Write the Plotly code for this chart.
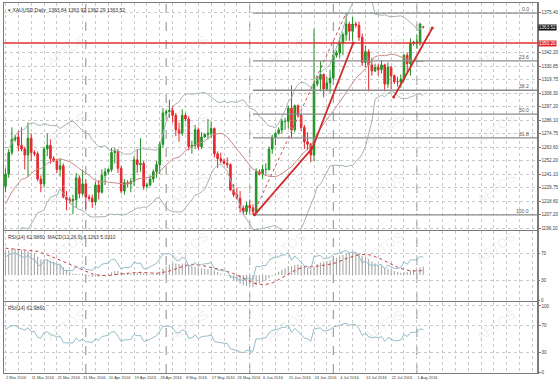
import numpy as np
import pandas as pd
import plotly.graph_objects as go

# ---------------- data (XAUUSD daily, 2 Mar 2016 - 3 Aug 2016, broker bars incl. Sundays) -------------
opens = [1231,1241,1259,1270,1272,1265,1262,1257,1271,1259,
         1258,1237,1233,1262,1265,1254,1252,1245,1248,1222,
         1220,1219,1220,1238,1225,1233,1222,1221,1218,1232,
         1226,1240,1243,1245,1259,1260,1246,1227,1234,1233,
         1235,1253,1249,1250,1231,1232,1237,1243,1249,1266,
         1292,1293,1294,1290,1278,1275,1290,1287,1264,1265,
         1278,1264,1272,1274,1275,1279,1258,1254,1252,1250,
         1249,1228,1224,1221,1213,1210,1215,1213,1210,1243,
         1241,1245,1245,1262,1272,1275,1278,1285,1285,1296,
         1278,1298,1290,1280,1268,1266,1257,1316,1320,1324,
         1312,1317,1321,1340,1342,1350,1357,1366,1360,1366,
         1365,1355,1334,1343,1332,1327,1330,1328,1332,1316,
         1330,1323,1318,1318,1320,1340,1333,1350,1351,1351,
         1363.84]
highs = [1246,1262,1280,1274,1277,1280,1264,1284,1275,1261,
         1260,1240,1264,1275,1270,1256,1254,1254,1250,1227,
         1222,1224,1242,1240,1245,1237,1224,1224,1235,1236,
         1245,1246,1246,1263,1263,1262,1248,1237,1236,1238,
         1256,1262,1271,1252,1234,1240,1245,1252,1268,1296,
         1295,1303,1298,1292,1284,1295,1292,1289,1269,1282,
         1280,1276,1275,1287,1285,1280,1260,1259,1254,1255,
         1250,1233,1230,1227,1215,1218,1220,1216,1246,1245,
         1249,1250,1264,1274,1276,1280,1287,1288,1298,1315,
         1299,1299,1292,1282,1276,1267,1362,1323,1335,1325,
         1322,1328,1345,1344,1355,1359,1375,1368,1372,1368,
         1368,1358,1348,1345,1338,1333,1333,1336,1333,1334,
         1331,1324,1322,1324,1341,1342,1354,1352,1357,1367,
         1363.92]
lows = [1226,1238,1257,1268,1260,1260,1245,1239,1252,1256,
        1235,1226,1230,1256,1250,1251,1242,1239,1221,1211,
        1217,1208,1213,1221,1223,1212,1219,1213,1215,1220,
        1225,1232,1241,1243,1250,1242,1225,1224,1230,1226,
        1231,1242,1243,1228,1229,1231,1234,1238,1241,1263,
        1290,1288,1284,1273,1268,1273,1285,1261,1258,1262,
        1261,1262,1271,1270,1271,1255,1246,1250,1249,1246,
        1227,1222,1220,1209,1207,1207.2,1208,1207.5,1208,1240,
        1237,1240,1244,1258,1265,1274,1275,1278,1279,1271,
        1276,1288,1277,1262,1261,1251,1252,1314,1310,1305,
        1310,1309,1320,1338,1338,1340,1352,1352,1352,1363,
        1352,1331,1330,1310,1323,1326,1323,1325,1310,1313,
        1312,1316,1314,1313,1318,1326,1323,1348,1346,1348,
        1362.29]
closes = [1241,1259,1270,1272,1265,1262,1257,1271,1259,1258,
          1237,1233,1262,1265,1254,1252,1245,1248,1222,1220,
          1219,1220,1238,1225,1233,1222,1221,1218,1232,1226,
          1240,1243,1245,1259,1260,1246,1227,1234,1233,1235,
          1253,1249,1250,1231,1232,1237,1243,1249,1266,1292,
          1293,1294,1290,1278,1275,1290,1287,1264,1265,1278,
          1264,1272,1274,1275,1279,1258,1254,1252,1250,1249,
          1228,1224,1221,1213,1210,1215,1213,1210,1243,1241,
          1245,1245,1262,1272,1275,1278,1285,1285,1296,1278,
          1298,1290,1280,1268,1266,1257,1316,1320,1324,1312,
          1317,1321,1340,1342,1350,1357,1366,1360,1366,1365,
          1355,1334,1343,1332,1327,1330,1328,1332,1316,1330,
          1323,1318,1318,1320,1340,1333,1350,1351,1351,1366,
          1363.52]
# closes before the first visible bar (Dec 2015 - 1 Mar 2016), used only to warm up the indicators
hist_closes = [1062,1053,1085,1075,1075,1073,1076,1062,1064,1062,1076,1049,1065,1080,1075,1068,1076,1070,1062,1060,
               1075,1078,1091,1108,1097,1096,1085,1086,1073,1089,1088,1089,1106,1098,1097,1107,1119,1125,1115,1118,
               1127,1128,1141,1155,1173,1198,1197,1194,1247,1239,1208,1208,1210,1226,1230,1210,1224,1237,1240,1221,1238,
               1230]

label_bars = [0, 8, 16, 24, 32, 40, 48, 56, 64, 72, 80, 88, 96, 104, 112, 120, 128]
date_labels = ["2 Mar 2016", "11 Mar 2016", "21 Mar 2016", "31 Mar 2016", "10 Apr 2016", "19 Apr 2016",
               "28 Apr 2016", "8 May 2016", "17 May 2016", "26 May 2016", "6 Jun 2016", "15 Jun 2016",
               "24 Jun 2016", "4 Jul 2016", "13 Jul 2016", "22 Jul 2016", "1 Aug 2016"]
month_start_bars = [25, 50, 76, 102, 128]

price_ticks = [1375.40, 1342.20, 1330.85, 1319.75, 1308.30, 1297.20, 1286.10, 1274.75,
               1263.60, 1252.20, 1241.10, 1229.75, 1218.60, 1207.20, 1196.10]
rsi_ticks = [0, 30, 70, 100]

fib_levels = [0.0, 23.6, 38.2, 50.0, 61.8, 100.0]
fib_high, fib_low = 1375.0, 1207.2
fib_high_bar, fib_low_bar = 106, 77
hline_price = 1350.20
last_price = 1363.52
trend1_x = [77.5, 95.5, 108.2]
trend1_y = [1207.2, 1262.8, 1350.2]
trend2_x = [120.8, 132.8]
trend2_y = [1305.2, 1362.7]

# ---------------- indicators ----------------
n = len(closes)
idx = list(range(n))
allc = pd.Series(hist_closes + closes, dtype=float)
h = len(hist_closes)
sma20 = allc.rolling(20).mean()
std20 = allc.rolling(20).std(ddof=0)
bb_up = (sma20 + 2 * std20).iloc[h:].values
bb_dn = (sma20 - 2 * std20).iloc[h:].values
bb_mid = sma20.iloc[h:].values
ema12 = allc.ewm(span=12, adjust=False).mean()
ema26 = allc.ewm(span=26, adjust=False).mean()
macd_all = ema12 - ema26
sig_all = macd_all.rolling(9).mean()
macd = macd_all.iloc[h:].values
sig = sig_all.iloc[h:].values
d = allc.diff()
g = d.clip(lower=0).ewm(alpha=1 / 14, adjust=False).mean()
l = (-d.clip(upper=0)).ewm(alpha=1 / 14, adjust=False).mean()
rsi = (100 - 100 / (1 + g / l)).iloc[h:].values

# ---------------- geometry ----------------
W, H = 560, 385
ML, MR, MT, MB = 2, 19, 3, 12
PH = H - MT - MB
PW = W - ML - MR


def dom(top_px, bot_px):
    return [(H - MB - bot_px) / PH, (H - MB - top_px) / PH]


XR = [-0.46, -0.46 + PW / 3.25]
GRID = "#c9c9c9"
AX = "#7a7a7a"
NARROW = "Liberation Sans Narrow, Liberation Sans, Arial"
TICKFONT = dict(family=NARROW, size=4.6, color="#404040")
DATEFONT = dict(family=NARROW, size=4.0, color="#404040")
CAPFONT = dict(family="Liberation Sans, Arial", size=5, color="#333333")

fig = go.Figure()

# Bollinger bands
fig.add_trace(go.Scatter(x=idx, y=bb_up, mode="lines", line=dict(color="#a3b5ad", width=1), hoverinfo="skip"))
fig.add_trace(go.Scatter(x=idx, y=bb_dn, mode="lines", line=dict(color="#a3b5ad", width=1), hoverinfo="skip"))
fig.add_trace(go.Scatter(x=idx, y=bb_mid, mode="lines", line=dict(color="#c98a8a", width=1), hoverinfo="skip"))

# Fibonacci retracement
rng = fib_high - fib_low
for lv in fib_levels:
    p = fib_high - lv / 100 * rng
    fig.add_trace(go.Scatter(x=[fib_low_bar, XR[1]], y=[p, p], mode="lines",
                             line=dict(color="#8c8c8c", width=1.3), hoverinfo="skip"))
    fig.add_annotation(x=XR[1] - 2.0, y=p, xref="x", yref="y", text=f"{lv:.1f}", showarrow=False,
                       xanchor="right", yanchor="bottom", yshift=-1, font=dict(size=5, color="#555555"))
fig.add_trace(go.Scatter(x=[fib_low_bar, fib_high_bar], y=[fib_low, fib_high], mode="lines",
                         line=dict(color="#c05050", width=1, dash="dot"), hoverinfo="skip"))

# horizontal red line
fig.add_trace(go.Scatter(x=XR, y=[hline_price, hline_price], mode="lines",
                         line=dict(color="#e03030", width=1.5), hoverinfo="skip"))

# candles
fig.add_trace(go.Candlestick(x=idx, open=opens, high=highs, low=lows, close=closes,
                             increasing=dict(line=dict(color="#1f8f23", width=1), fillcolor="#22a028"),
                             decreasing=dict(line=dict(color="#e3262c", width=1), fillcolor="#ee2a30"),
                             whiskerwidth=0, hoverinfo="skip"))

# trend lines
fig.add_trace(go.Scatter(x=trend1_x, y=trend1_y, mode="lines+markers",
                         line=dict(color="#d02a2a", width=1.8), marker=dict(size=3, color="#d02a2a"),
                         hoverinfo="skip"))
fig.add_trace(go.Scatter(x=trend2_x, y=trend2_y, mode="lines+markers",
                         line=dict(color="#d02a2a", width=1.8), marker=dict(size=3, color="#d02a2a"),
                         hoverinfo="skip"))

# MACD panel: histogram + signal + RSI overlay
fig.add_trace(go.Bar(x=idx, y=macd, marker=dict(color="#a8a8a8", line=dict(width=0)), width=0.35,
                     xaxis="x2", yaxis="y2", hoverinfo="skip"))
fig.add_trace(go.Scatter(x=idx, y=sig, mode="lines", line=dict(color="#c43c3c", width=1, dash="dot"),
                         xaxis="x2", yaxis="y2", hoverinfo="skip"))
fig.add_trace(go.Scatter(x=idx, y=rsi, mode="lines", line=dict(color="#93bccb", width=1),
                         xaxis="x2", yaxis="y3", hoverinfo="skip"))
# RSI panel
fig.add_trace(go.Scatter(x=idx, y=rsi, mode="lines", line=dict(color="#93bccb", width=1),
                         xaxis="x3", yaxis="y4", hoverinfo="skip"))

# x tick positions (grid every 4 bars, labels every 8)
grid_vals = list(range(0, 166, 4))
grid_text = [date_labels[label_bars.index(v)] if v in label_bars else "" for v in grid_vals]

xcommon = dict(range=XR, showgrid=True, gridcolor=GRID, griddash="dot", gridwidth=1, zeroline=False,
               tickmode="array", tickvals=grid_vals, showline=True, linecolor=AX, linewidth=1, mirror=True)
ycommon = dict(side="right", tickmode="array", showgrid=True, gridcolor=GRID, griddash="dot", zeroline=False,
               ticks="outside", ticklen=2, tickcolor=AX, tickfont=TICKFONT)
fig.update_layout(
    width=W, height=H, margin=dict(l=ML, r=MR, t=MT, b=MB),
    paper_bgcolor="white", plot_bgcolor="white", showlegend=False, font=TICKFONT,
    xaxis=dict(**xcommon, domain=[0, 1], anchor="y", showticklabels=False, rangeslider=dict(visible=False)),
    xaxis2=dict(**xcommon, domain=[0, 1], anchor="y2", showticklabels=False, matches="x"),
    xaxis3=dict(**xcommon, domain=[0, 1], anchor="y4", showticklabels=True, matches="x",
                ticktext=grid_text, ticklabelposition="outside right", ticks="", tickangle=0,
                tickfont=DATEFONT),
    yaxis=dict(**ycommon, domain=dom(3, 230), range=[1194.6, 1383.5], tickvals=price_ticks,
               ticktext=[f"{v:.2f}" for v in price_ticks], showline=True, linecolor=AX, linewidth=1.5,
               mirror=True, anchor="x"),
    yaxis2=dict(domain=dom(231, 301), range=[-29.5, 50], side="right", showticklabels=False, showgrid=False,
                zeroline=False, showline=True, linecolor=AX, linewidth=1.5, mirror=True, anchor="x2"),
    yaxis3=dict(**ycommon, domain=dom(231, 301), range=[-1.5, 103.5], overlaying="y2", tickvals=[0, 30, 70],
                anchor="x2"),
    yaxis4=dict(**ycommon, domain=dom(302, 373), range=[-1.5, 106], tickvals=rsi_ticks, showline=True,
                linecolor=AX, linewidth=1.5, mirror=True, anchor="x3"),
)

# month separators
for b in month_start_bars:
    fig.add_shape(type="line", xref="x", yref="paper", x0=b, x1=b, y0=0, y1=1,
                  line=dict(color="#8a8a8a", width=1, dash="dash"), layer="below")

# price boxes on the right scale
for val, bg in [(last_price, "#111111"), (hline_price, "#e02828")]:
    fig.add_annotation(x=1, xref="paper", y=val, yref="y", text=f"{val:.2f}", showarrow=False,
                       xanchor="left", bgcolor=bg, font=dict(family=NARROW, size=4.6, color="white"),
                       borderpad=0, xshift=1)

# window captions
fig.add_annotation(x=0.004, y=1, xref="paper", yref="paper", xanchor="left", yanchor="top", showarrow=False,
                   text="▾ XAUUSD,Daily  1363.84 1363.92 1362.29 1363.52", font=CAPFONT, yshift=-2)
fig.add_annotation(x=0.004, y=dom(231, 301)[1], xref="paper", yref="paper", xanchor="left", yanchor="top",
                   showarrow=False, text="RSI(14) 62.9860  MACD(12,26,9) 8.1263 5.0310", font=CAPFONT,
                   yshift=-1)
fig.add_annotation(x=0.004, y=dom(302, 373)[1], xref="paper", yref="paper", xanchor="left", yanchor="top",
                   showarrow=False, text="RSI(14) 62.9860", font=CAPFONT, yshift=-1)

# watermark
for wy in [0.93, 0.72, 0.5, 0.28, 0.07]:
    for wx in [0.07, 0.3, 0.53, 0.76, 0.97]:
        fig.add_annotation(x=wx, y=wy, xref="paper", yref="paper", text="AETOS", showarrow=False,
                           textangle=-35, font=dict(size=13, color="rgba(200,200,200,0.28)",
                                                    family="Liberation Sans"))

fig.write_html("out.html", config={"displayModeBar": False, "staticPlot": True},
               post_script="document.body.style.margin='0';document.body.style.padding='0';")
